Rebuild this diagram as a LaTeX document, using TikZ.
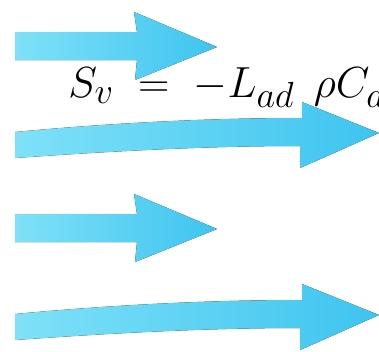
\documentclass[tikz,border=0pt]{standalone}
\usepackage{amsmath}
\usetikzlibrary{positioning}
\definecolor{strzalka}{HTML}{3EC4EF}
\definecolor{strzalkajasna}{HTML}{7FE1F8}
\tikzset{strzalka/.style={left color=strzalkajasna, right color=strzalka, draw=none}}

\begin{document}
\begin{tikzpicture}[x=1pt, y=-1pt]
\useasboundingbox (0,0) rectangle (379,351);
\clip (0,0) rectangle (379,351);

% Proste strzałki (krótkie)
\foreach \i/\y in {1/45, 3/227} {
  \coordinate (s\i) at (15,\y);
  \fill[strzalka] (s\i) ++(0,-13) -- ++(122,0) -- ++(-3,-20) -- ++(83,35)
    -- ++(-82,33) -- ++(2,-20) -- ++(-122,0) -- cycle;
}

% Wygięte strzałki (długie)
\foreach \i/\y in {2/145, 4/327} {
  \coordinate (s\i) at (15,\y);
  \fill[strzalka] (15,\y-13) .. controls (100,\y-21) and (200,\y-27) .. (302,\y-27)
    -- (302,\y-43) -- (379,\y-12) -- (300,\y+23) -- (300,\y+1)
    .. controls (200,\y+1) and (100,\y+7) .. (15,\y+13) -- cycle;
}

% Wzór
\node[anchor=base west, inner sep=0pt, scale=1.75] (wzor) at (68,97)
  {\Huge $S_v \;=\; -L_{ad}\;\,\rho C_{d}$};
\end{tikzpicture}
\end{document}
